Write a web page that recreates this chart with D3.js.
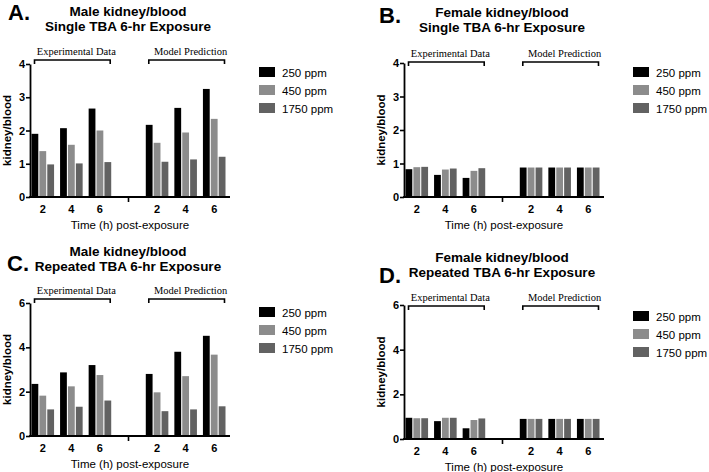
<!DOCTYPE html>
<html><head><meta charset="utf-8">
<script src="https://cdn.jsdelivr.net/npm/d3@7"></script>
<style>body{margin:0;background:#fff} svg{display:block}</style>
</head><body>
<svg id="chart" width="709" height="472"></svg>
<script>
// ---- data ----
const timeLabels = ["2", "4", "6"];
const doseLabels = ["250 ppm", "450 ppm", "1750 ppm"];
const doseColors = ["#000000", "#8c8c8c", "#626262"];
const slotKeys = ["e2", "e4", "e6", "gap", "m2", "m4", "m6"];
const bracketLabels = ["Experimental Data", "Model Prediction"];
const yAxisLabel = "kidney/blood";
const xAxisLabel = "Time (h) post-exposure";

// each row: one time point (2, 4, 6 h); values for [250, 450, 1750 ppm]
const maleSingleExp     = [[1.90, 1.38, 0.98], [2.07, 1.57, 1.01], [2.66, 2.00, 1.05]];
const maleSingleModel   = [[2.17, 1.63, 1.06], [2.68, 1.94, 1.13], [3.25, 2.35, 1.21]];
const femaleSingleExp   = [[0.83, 0.89, 0.90], [0.66, 0.82, 0.85], [0.57, 0.78, 0.86]];
const femaleSingleModel = [[0.88, 0.88, 0.88], [0.88, 0.88, 0.88], [0.88, 0.88, 0.88]];
const maleRepExp        = [[2.35, 1.82, 1.20], [2.87, 2.24, 1.32], [3.20, 2.75, 1.60]];
const maleRepModel      = [[2.80, 1.97, 1.12], [3.80, 2.70, 1.20], [4.52, 3.67, 1.34]];
const femaleRepExp      = [[0.95, 0.93, 0.93], [0.80, 0.95, 0.95], [0.48, 0.85, 0.92]];
const femaleRepModel    = [[0.90, 0.90, 0.90], [0.90, 0.90, 0.90], [0.90, 0.90, 0.90]];

const panelTitles = [
  ["Male kidney/blood", "Single TBA 6-hr Exposure"],
  ["Female kidney/blood", "Single TBA 6-hr Exposure"],
  ["Male kidney/blood", "Repeated TBA 6-hr Exposure"],
  ["Female kidney/blood", "Repeated TBA 6-hr Exposure"]
];
const panelLetters = ["A.", "B.", "C.", "D."];
const yMaxes = [4, 4, 6, 6];
const yTickSets = [[0, 1, 2, 3, 4], [0, 1, 2, 3, 4], [0, 2, 4, 6], [0, 2, 4, 6]];
const expSets = [maleSingleExp, femaleSingleExp, maleRepExp, femaleRepExp];
const modelSets = [maleSingleModel, femaleSingleModel, maleRepModel, femaleRepModel];

// ---- layout ----
const layout = [
  {lx: 8,   ly: 20,  ty: [16, 31],   x0: 30,  x1: 230, yTop: 64,  yBot: 197, bracketY: 60,  legX: 259, legY: 67},
  {lx: 379, ly: 23,  ty: [17, 32],   x0: 404, x1: 604, yTop: 63,  yBot: 197, bracketY: 62,  legX: 633, legY: 67},
  {lx: 7,   ly: 271, ty: [256, 271], x0: 30,  x1: 230, yTop: 303, yBot: 436, bracketY: 299, legX: 259, legY: 307},
  {lx: 379, ly: 283, ty: [262, 277], x0: 404, x1: 604, yTop: 305, yBot: 439, bracketY: 306, legX: 633, legY: 311}
];

const SANS = "'Liberation Sans', Arial, Helvetica, sans-serif";
const SERIF = "'Liberation Serif', 'Times New Roman', serif";
const svg = d3.select("#chart");

layout.forEach((p, i) => {
  const g = svg.append("g");
  const rows = [];
  timeLabels.forEach((t, k) => rows.push({key: "e" + t, label: t, vals: expSets[i][k]}));
  timeLabels.forEach((t, k) => rows.push({key: "m" + t, label: t, vals: modelSets[i][k]}));

  const x = d3.scaleBand().domain(slotKeys).range([p.x0 - 1.5, p.x1 - 1.5])
    .paddingInner(0.21).paddingOuter(0.105);
  const xi = d3.scaleBand().domain(doseLabels).range([0, x.bandwidth()]).paddingInner(0.14);
  const y = d3.scaleLinear().domain([0, yMaxes[i]]).range([p.yBot, p.yTop]);
  const color = d3.scaleOrdinal().domain(doseLabels).range(doseColors);

  // letter + title
  g.append("text").attr("x", p.lx).attr("y", p.ly).text(panelLetters[i])
    .attr("font-family", SANS).attr("font-weight", "bold").attr("font-size", 22);
  const cx = (p.x0 + p.x1) / 2 - 2;
  panelTitles[i].forEach((t, k) => {
    g.append("text").attr("x", cx).attr("y", p.ty[k]).attr("text-anchor", "middle")
      .attr("font-family", SANS).attr("font-weight", "bold").attr("font-size", 13.5).text(t);
  });

  // bars
  const grp = g.selectAll("g.grp").data(rows).enter().append("g")
    .attr("transform", d => `translate(${x(d.key)},0)`);
  grp.selectAll("rect").data(d => d.vals.map((v, j) => ({dose: doseLabels[j], v})))
    .enter().append("rect")
    .attr("x", d => xi(d.dose)).attr("width", xi.bandwidth())
    .attr("y", d => y(d.v)).attr("height", d => p.yBot - y(d.v))
    .attr("fill", d => color(d.dose));

  // y axis
  const ya = g.append("g").attr("transform", `translate(${p.x0},0)`)
    .call(d3.axisLeft(y).tickValues(yTickSets[i]).tickFormat(d3.format("d")).tickSize(4).tickSizeOuter(0));
  ya.select(".domain").attr("stroke", "#000").attr("stroke-width", 1.8);
  ya.selectAll(".tick line").attr("stroke", "#000").attr("stroke-width", 1.6);
  ya.selectAll(".tick text").attr("font-family", SANS).attr("font-weight", "bold")
    .attr("font-size", 11).attr("fill", "#000").attr("x", -5);

  // x axis
  g.append("line").attr("x1", p.x0 - 0.9).attr("x2", p.x1).attr("y1", p.yBot).attr("y2", p.yBot)
    .attr("stroke", "#000").attr("stroke-width", 1.8);
  g.selectAll("text.xt").data(rows).enter().append("text")
    .attr("x", d => x(d.key) + x.bandwidth() / 2).attr("y", p.yBot + 16)
    .attr("text-anchor", "middle").attr("font-family", SANS).attr("font-weight", "bold")
    .attr("font-size", 11).text(d => d.label);
  const gx = x("gap") + x.bandwidth() / 2;
  g.append("line").attr("x1", gx).attr("x2", gx).attr("y1", p.yBot).attr("y2", p.yBot + 5)
    .attr("stroke", "#000").attr("stroke-width", 1.6);

  // axis titles
  g.append("text").attr("x", (p.x0 + p.x1) / 2).attr("y", p.yBot + 32).attr("text-anchor", "middle")
    .attr("font-family", SANS).attr("font-size", 11.5).text(xAxisLabel);
  g.append("text").attr("transform", `translate(${p.x0 - 19},${(p.yTop + p.yBot) / 2}) rotate(-90)`)
    .attr("text-anchor", "middle").attr("font-family", SANS).attr("font-weight", "bold")
    .attr("font-size", 11.5).text(yAxisLabel);

  // brackets
  [["e2", "e6"], ["m2", "m6"]].forEach((pair, k) => {
    const bx0 = x(pair[0]) + 3, bx1 = x(pair[1]) + x.bandwidth() - 1;
    g.append("path")
      .attr("d", `M${bx0},${p.bracketY + 4}V${p.bracketY}H${bx1}V${p.bracketY + 4}`)
      .attr("fill", "none").attr("stroke", "#000").attr("stroke-width", 1.6);
    g.append("text").attr("x", (bx0 + bx1) / 2 + 4).attr("y", p.bracketY - 5)
      .attr("text-anchor", "middle").attr("font-family", SERIF).attr("font-size", 10.5)
      .text(bracketLabels[k]);
  });

  // legend
  doseLabels.forEach((d, j) => {
    g.append("rect").attr("x", p.legX).attr("y", p.legY + j * 18).attr("width", 16).attr("height", 10)
      .attr("fill", color(d));
    g.append("text").attr("x", p.legX + 23).attr("y", p.legY + j * 18 + 9.5)
      .attr("font-family", SANS).attr("font-size", 11.5).text(d);
  });
});
</script>
</body></html>
